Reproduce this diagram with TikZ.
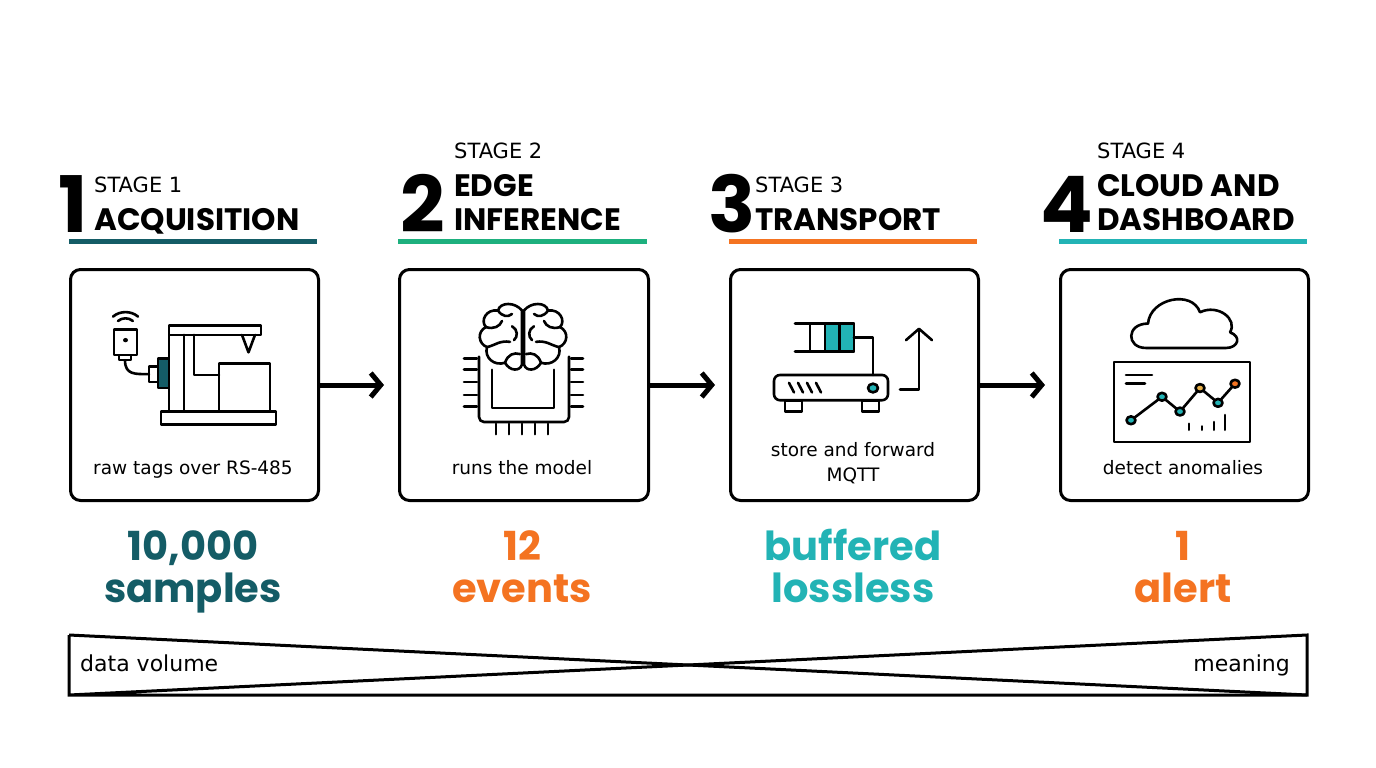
\documentclass[tikz,border=0pt]{standalone}
\usetikzlibrary{arrows.meta}
\usepackage{fontspec}
\setmainfont{DejaVu Sans}
\newfontfamily\pop{Poppins}
\definecolor{cA}{HTML}{145C66}
\definecolor{cB}{HTML}{1DB07E}
\definecolor{cC}{HTML}{F47321}
\definecolor{cD}{HTML}{22B3B5}
\definecolor{cY}{HTML}{E8B04A}
\begin{document}
\begin{tikzpicture}[x=1pt,y=-1pt,
  box/.style={draw,line width=3,rounded corners=10},
  ic/.style={line width=2.6,line join=round,line cap=round},
  digit/.style={anchor=base west,inner sep=0,font=\pop\bfseries\fontsize{78}{78}\selectfont},
  stg/.style={anchor=base west,inner sep=0,font=\fontsize{21}{21}\selectfont},
  ttl/.style={anchor=base west,inner sep=0,font=\pop\bfseries\fontsize{31}{31}\selectfont},
  lbl/.style={anchor=base,inner sep=0,font=\fontsize{18.5}{18.5}\selectfont},
  big/.style={anchor=base,inner sep=0,font=\pop\bfseries\fontsize{40}{40}\selectfont},
  flow/.style={line width=5,-{Straight Barb[length=10pt,width=24pt,line width=5pt]}},
  uline/.style={line width=5}]
\useasboundingbox (0,0) rectangle (1376,768);
% headings
\node[digit] (d1) at (58,232) {1};
\node[stg] (s1) at (94,192) {STAGE 1};
\node[ttl] (t1) at (94,230) {ACQUISITION};
\node[digit] (d2) at (400,232) {2};
\node[stg] (s2) at (454,158) {STAGE 2};
\node[ttl] (t2a) at (454,196) {EDGE};
\node[ttl] (t2) at (454,230) {INFERENCE};
\node[digit] (d3) at (708,232) {3};
\node[stg] (s3) at (755,192) {STAGE 3};
\node[ttl] (t3) at (755,230) {TRANSPORT};
\node[digit] (d4) at (1040,232) {4};
\node[stg] (s4) at (1097,158) {STAGE 4};
\node[ttl] (t4a) at (1097,196) {CLOUD AND};
\node[ttl] (t4) at (1097,230) {DASHBOARD};
\draw[uline,cA] (69,241) -- (317,241);
\draw[uline,cB] (398,241) -- (647,241);
\draw[uline,cC] (729,241) -- (977,241);
\draw[uline,cD] (1059,241) -- (1307,241);
% boxes
\node[box,minimum width=248,minimum height=231,anchor=north west] (b1) at (69,268) {};
\node[box,minimum width=249,minimum height=231,anchor=north west] (b2) at (398,268) {};
\node[box,minimum width=248,minimum height=231,anchor=north west] (b3) at (729,268) {};
\node[box,minimum width=248,minimum height=231,anchor=north west] (b4) at (1059,268) {};
\draw[flow] (b1.east) -- ([xshift=-14]b2.west);
\draw[flow] (b2.east) -- ([xshift=-14]b3.west);
\draw[flow] (b3.east) -- ([xshift=-14]b4.west);
\node[lbl] (l1) at (193,474) {raw tags over RS-485};
\node[lbl] (l2) at (522,474) {runs the model};
\node[lbl] (l3a) at (853,456) {store and forward};
\node[lbl] (l3) at (853,481) {MQTT};
\node[lbl] (l4) at (1183,474) {detect anomalies};
% big figures
\node[big,text=cA] (n1a) at (193,560) {10,000};
\node[big,text=cA] (n1) at (193,602) {samples};
\node[big,text=cC] (n2a) at (522,560) {12};
\node[big,text=cC] (n2) at (522,602) {events};
\node[big,text=cD] (n3a) at (853,560) {buffered};
\node[big,text=cD] (n3) at (853,602) {lossless};
\node[big,text=cC] (n4a) at (1183,560) {1};
\node[big,text=cC] (n4) at (1183,602) {alert};
% bottom wedge
\draw[line width=3,line join=miter] (69,635) -- (69,695) -- (1307,695) -- (1307,635) -- (69,695);
\draw[line width=3] (69,635) -- (1307,695);
\node[anchor=base west,inner sep=0,font=\fontsize{22}{22}\selectfont] (dv) at (80,671) {data volume};
\node[anchor=base east,inner sep=0,font=\fontsize{22}{22}\selectfont] (mn) at (1290,671) {meaning};
\begin{scope}[cm={1,0,0,0.871,(0,33.54)}]
% icon 1: machine
\begin{scope}[ic]
\draw (169,335) rectangle (261,346);
\draw (169,346) -- (169,434) (184,346) -- (184,434);
\draw (194,346) -- (194,392) -- (219,392);
\draw (219,379) rectangle (270,434);
\draw (161,434) rectangle (276,449);
\draw (242,346) -- (248.5,366) -- (255,346);
\draw[fill=cA] (158,373) rectangle (169,407);
\draw (149,382) rectangle (158,400);
\draw (114,340) rectangle (137,369);
\draw (119,369) rectangle (131,375);
\fill (125.5,352) circle (2.5);
\draw (125,375) .. controls (125,392) and (135,391) .. (149,391);
\draw (118,330) arc (225:315:10.5);
\draw (113,325) arc (225:315:17.7);
\end{scope}
% icon 2: brain chip
\begin{scope}[ic]
\draw[rounded corners=5] (479,371) -- (479,446) -- (569,446) -- (569,371);
\draw (492,386) -- (492,430) -- (554,430) -- (554,386);
\foreach \y in {373,386,400,415,428} {\draw (464,\y) -- (477,\y); \draw (571,\y) -- (583,\y);}
\foreach \x in {496,509,522,535,548} {\draw (\x,448) -- (\x,460);}
\draw[fill=white] (522,318) .. controls (515,308) and (500,308) .. (498,318)
  .. controls (486,316) and (480,330) .. (486,337)
  .. controls (477,342) and (478,356) .. (487,360)
  .. controls (484,372) and (494,382) .. (505,378)
  .. controls (510,388) and (520,388) .. (522,380) -- cycle;
\draw[fill=white] (524,318) .. controls (531,308) and (546,308) .. (548,318)
  .. controls (560,316) and (566,330) .. (560,337)
  .. controls (569,342) and (568,356) .. (559,360)
  .. controls (562,372) and (552,382) .. (541,378)
  .. controls (536,388) and (526,388) .. (524,380) -- cycle;
\draw (498,318) .. controls (502,325) and (508,326) .. (512,322);
\draw (486,337) .. controls (494,340) and (500,336) .. (502,330);
\draw (487,360) .. controls (495,358) and (500,352) .. (510,354);
\draw (505,378) .. controls (508,368) and (514,366) .. (520,368);
\draw (512,336) .. controls (518,340) and (518,348) .. (514,352);
\draw (548,318) .. controls (544,325) and (538,326) .. (534,322);
\draw (560,337) .. controls (552,340) and (546,336) .. (544,330);
\draw (559,360) .. controls (551,358) and (546,352) .. (536,354);
\draw (541,378) .. controls (538,368) and (532,366) .. (526,368);
\draw (534,336) .. controls (528,340) and (528,348) .. (532,352);
\end{scope}
% icon 3: router
\begin{scope}[ic]
\draw (795,333) -- (854,333) -- (854,365) -- (795,365);
\draw[fill=cD] (825,333) rectangle (854,365);
\draw (810,333) -- (810,365) (839.5,333) -- (839.5,365);
\draw (854,349) -- (873,349) -- (873,392);
\draw[rounded corners=6] (774,392) rectangle (888,421);
\foreach \x in {789,798,807,816} {\draw (\x,401) -- (\x+5,412);}
\draw[fill=cD] (873,407) circle (5);
\draw (785,421) rectangle (802,434) (862,421) rectangle (879,434);
\draw (900,409) -- (919,409) -- (919,340);
\draw (906,352) -- (919,339) -- (932,352);
\end{scope}
% icon 4: cloud dashboard
\begin{scope}[ic]
\draw (1146,361) .. controls (1126,361) and (1126,333) .. (1148,333)
  .. controls (1150,304) and (1192,294) .. (1200,320)
  .. controls (1218,310) and (1238,328) .. (1230,343)
  .. controls (1242,348) and (1238,361) .. (1226,361) -- cycle;
\draw (1114,377) rectangle (1250,469);
\draw (1126,392) -- (1152,392) (1126,402) -- (1145,402);
\draw (1131,444) -- (1162,417) -- (1180,434) -- (1200,407) -- (1218,424) -- (1235,402);
\draw[fill=cD] (1131,444) circle (4.5);
\draw[fill=cD] (1162,417) circle (4.5);
\draw[fill=cD] (1180,434) circle (4.5);
\draw[fill=cY] (1200,407) circle (4.5);
\draw[fill=cD] (1218,424) circle (4.5);
\draw[fill=cC] (1235,402) circle (4.5);
\draw (1189,448) -- (1189,455) (1202,451) -- (1202,455) (1214,446) -- (1214,455) (1225,438) -- (1225,455);
\end{scope}
\end{scope}
\end{tikzpicture}
\end{document}
